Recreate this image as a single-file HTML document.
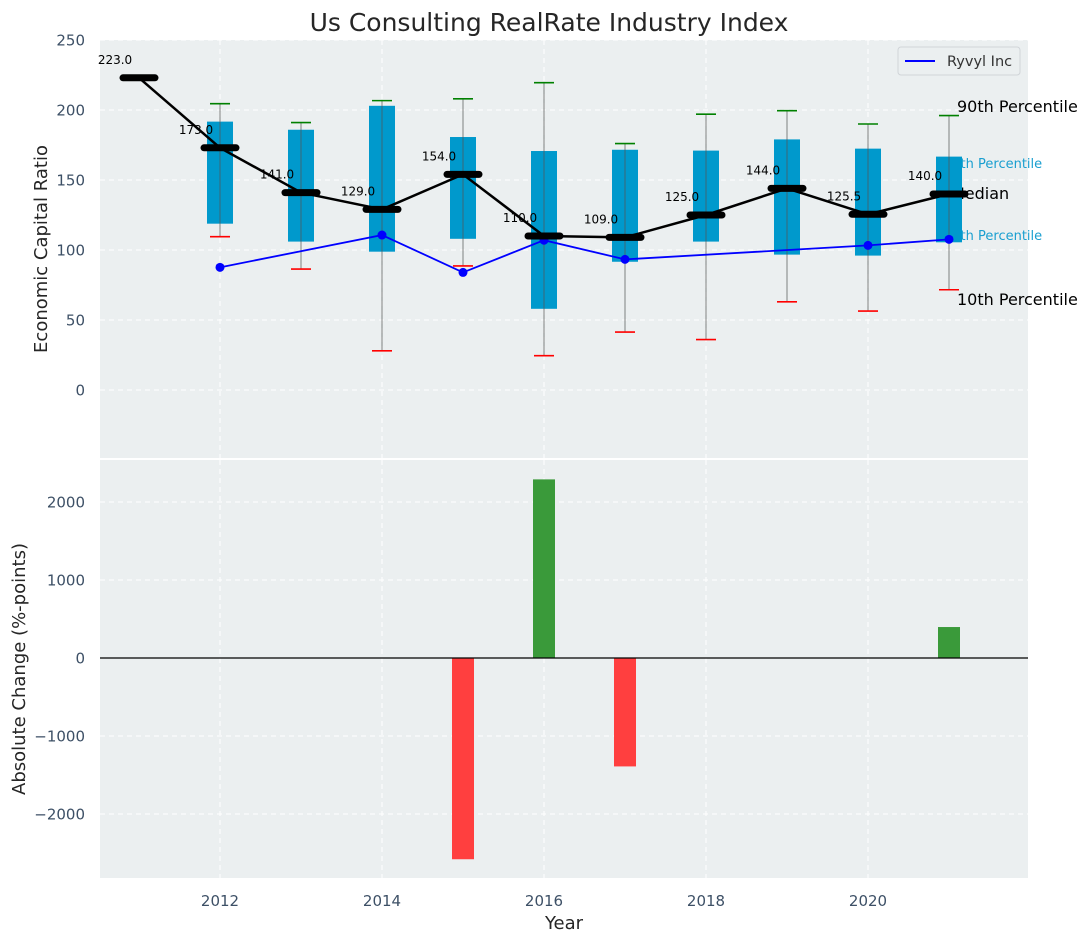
<!DOCTYPE html>
<html><head><meta charset="utf-8"><style>
body{margin:0;background:#fff}
svg{display:block;font-family:"DejaVu Sans","Liberation Sans",sans-serif}
</style></head><body>
<svg id="chart" width="1092" height="942" viewBox="0 0 1092 942" xmlns="http://www.w3.org/2000/svg">
<text x="549" y="31" text-anchor="middle" font-size="25" fill="#262626">Us Consulting RealRate Industry Index</text>
<rect x="100" y="40" width="928" height="418" fill="#ebeff0"/>
<rect x="100" y="460" width="928" height="418" fill="#ebeff0"/>
<g id="grid"></g>
<g id="ticks"></g>
<text transform="translate(47,249) rotate(-90)" text-anchor="middle" font-size="18" fill="#262626">Economic Capital Ratio</text>
<text transform="translate(25,669) rotate(-90)" text-anchor="middle" font-size="18" fill="#262626">Absolute Change (%-points)</text>
<text x="564" y="929" text-anchor="middle" font-size="18" fill="#262626">Year</text>
<g id="annot" font-family="DejaVu Sans,sans-serif">
<text x="957" y="112" font-size="16" fill="#000">90th Percentile</text>
<text x="944" y="168" font-size="13" fill="#1a9fd0">75th Percentile</text>
<text x="951" y="199" font-size="16" fill="#000">Median</text>
<text x="944" y="240" font-size="13" fill="#1a9fd0">25th Percentile</text>
<text x="957" y="305" font-size="16" fill="#000">10th Percentile</text>
</g>
<g id="marks"></g>
<g>
<rect x="898" y="47" width="122" height="28" rx="3" fill="#ebeff0" stroke="#d0d4d8"/>
<line x1="905" y1="61" x2="935" y2="61" stroke="#0000ff" stroke-width="2"/>
<text x="947" y="66" font-size="14.5" fill="#333">Ryvyl Inc</text>
</g>
</svg>
<script>
const years = [2011,2012,2013,2014,2015,2016,2017,2018,2019,2020,2021];
const medians = [223,173,141,129,154,110,109,125,144,125.5,140];
const boxYears = [2012,2013,2014,2015,2016,2017,2018,2019,2020,2021];
const q1 = [118.8,106,98.8,108,58,91.6,106,96.7,96,105.5];
const q3 = [191.7,185.9,203,180.7,170.7,171.6,171,179,172.4,166.7];
const p10 = [109.5,86.4,28,88.6,24.5,41.4,36,63,56.4,71.6];
const p90 = [204.5,191,206.7,208,219.5,176,197,199.5,190,196];
const ryvylYears = [2012,2014,2015,2016,2017,2020,2021];
const ryvyl = [87.6,110.7,84,107,93.3,103.3,107.6];
const changeYears = [2015,2016,2017,2021];
const changes = [-2580,2290,-1390,397];
const topTicks = [0,50,100,150,200,250];
const bottomTicks = [-2000,-1000,0,1000,2000];
const xTicks = [2012,2014,2016,2018,2020];

const NS='http://www.w3.org/2000/svg';
const X = yr => 220 + (yr-2012)*81;
const YT = v => 390 - 1.4*v;
const YB = v => 658 - 0.078*v;
function mk(parent, tag, attrs, text){
  const e=document.createElementNS(NS,tag);
  for(const k in attrs) e.setAttribute(k,attrs[k]);
  if(text!==undefined) e.textContent=text;
  document.getElementById(parent).appendChild(e);
  return e;
}
topTicks.forEach(t=>{
  const g=mk('grid','line',{x1:100,x2:1028,y1:YT(t),y2:YT(t),stroke:'#fff','stroke-dasharray':'5,4','stroke-width':1});
  
  
  const l=mk('ticks','text',{x:85,y:YT(t)+5.5,'text-anchor':'end','font-size':15,fill:'#3d5066'},String(t));
  
  
});
bottomTicks.forEach(t=>{
  const g=mk('grid','line',{x1:100,x2:1028,y1:YB(t),y2:YB(t),stroke:'#fff','stroke-dasharray':'5,4','stroke-width':1});
  
  
  const l=mk('ticks','text',{x:85,y:YB(t)+5.5,'text-anchor':'end','font-size':15,fill:'#3d5066'},String(t).replace('-','\u2212'));
  
  
});
xTicks.forEach(t=>{
  [[40,458],[460,878]].forEach(r=>{
    const g=mk('grid','line',{x1:X(t),x2:X(t),y1:r[0],y2:r[1],stroke:'#fff','stroke-dasharray':'5,4','stroke-width':1});
    
    
  });
  const l=mk('ticks','text',{x:X(t),y:906,'text-anchor':'middle','font-size':15,fill:'#3d5066'},String(t));
  
  
});
boxYears.forEach((yr,i)=>{
  const x=X(yr);
  const b=mk('marks','rect',{x:x-13,y:YT(q3[i]),width:26,height:YT(q1[i])-YT(q3[i]),fill:'#0099cc'});
  
  
  const w=mk('marks','line',{x1:x,x2:x,y1:YT(p90[i]),y2:YT(p10[i]),stroke:'#555','stroke-opacity':0.6,'stroke-width':1.2});
  
  
  const c1=mk('marks','line',{x1:x-10,x2:x+10,y1:YT(p90[i]),y2:YT(p90[i]),stroke:'#008000','stroke-width':1.6});
  
  
  const c2=mk('marks','line',{x1:x-10,x2:x+10,y1:YT(p10[i]),y2:YT(p10[i]),stroke:'#ff0000','stroke-width':1.6});
  
  
});
years.forEach((yr,i)=>{
  const t=mk('marks','text',{x:X(yr)-24,y:YT(medians[i])-14,'text-anchor':'middle','font-size':12,fill:'#000'},medians[i].toFixed(1));
  
  
});
const rp=mk('marks','polyline',{points:ryvylYears.map((y,i)=>X(y)+','+YT(ryvyl[i])).join(' '),fill:'none',stroke:'#0000ff','stroke-width':1.8});


ryvylYears.forEach((yr,i)=>{
  const c=mk('marks','circle',{cx:X(yr),cy:YT(ryvyl[i]),r:4.5,fill:'#0000ff'});
  
  
});
const mp=mk('marks','polyline',{points:years.map((y,i)=>X(y)+','+YT(medians[i])).join(' '),fill:'none',stroke:'#000','stroke-width':2.5});


years.forEach((yr,i)=>{
  const m=mk('marks','line',{x1:X(yr)-16,x2:X(yr)+16,y1:YT(medians[i]),y2:YT(medians[i]),stroke:'#000','stroke-width':7,'stroke-linecap':'round'});
  
  
});
changeYears.forEach((yr,i)=>{
  const v=changes[i];
  const y0=Math.min(YB(0),YB(v)), h=Math.abs(YB(v)-YB(0));
  const r=mk('marks','rect',{x:X(yr)-11,y:y0,width:22,height:h,fill:v>=0?'#3a9a3a':'#ff3f3f'});
  
  
});
const z=mk('marks','line',{x1:100,x2:1028,y1:YB(0),y2:YB(0),stroke:'#000','stroke-width':1.2});


</script>
</body></html>
